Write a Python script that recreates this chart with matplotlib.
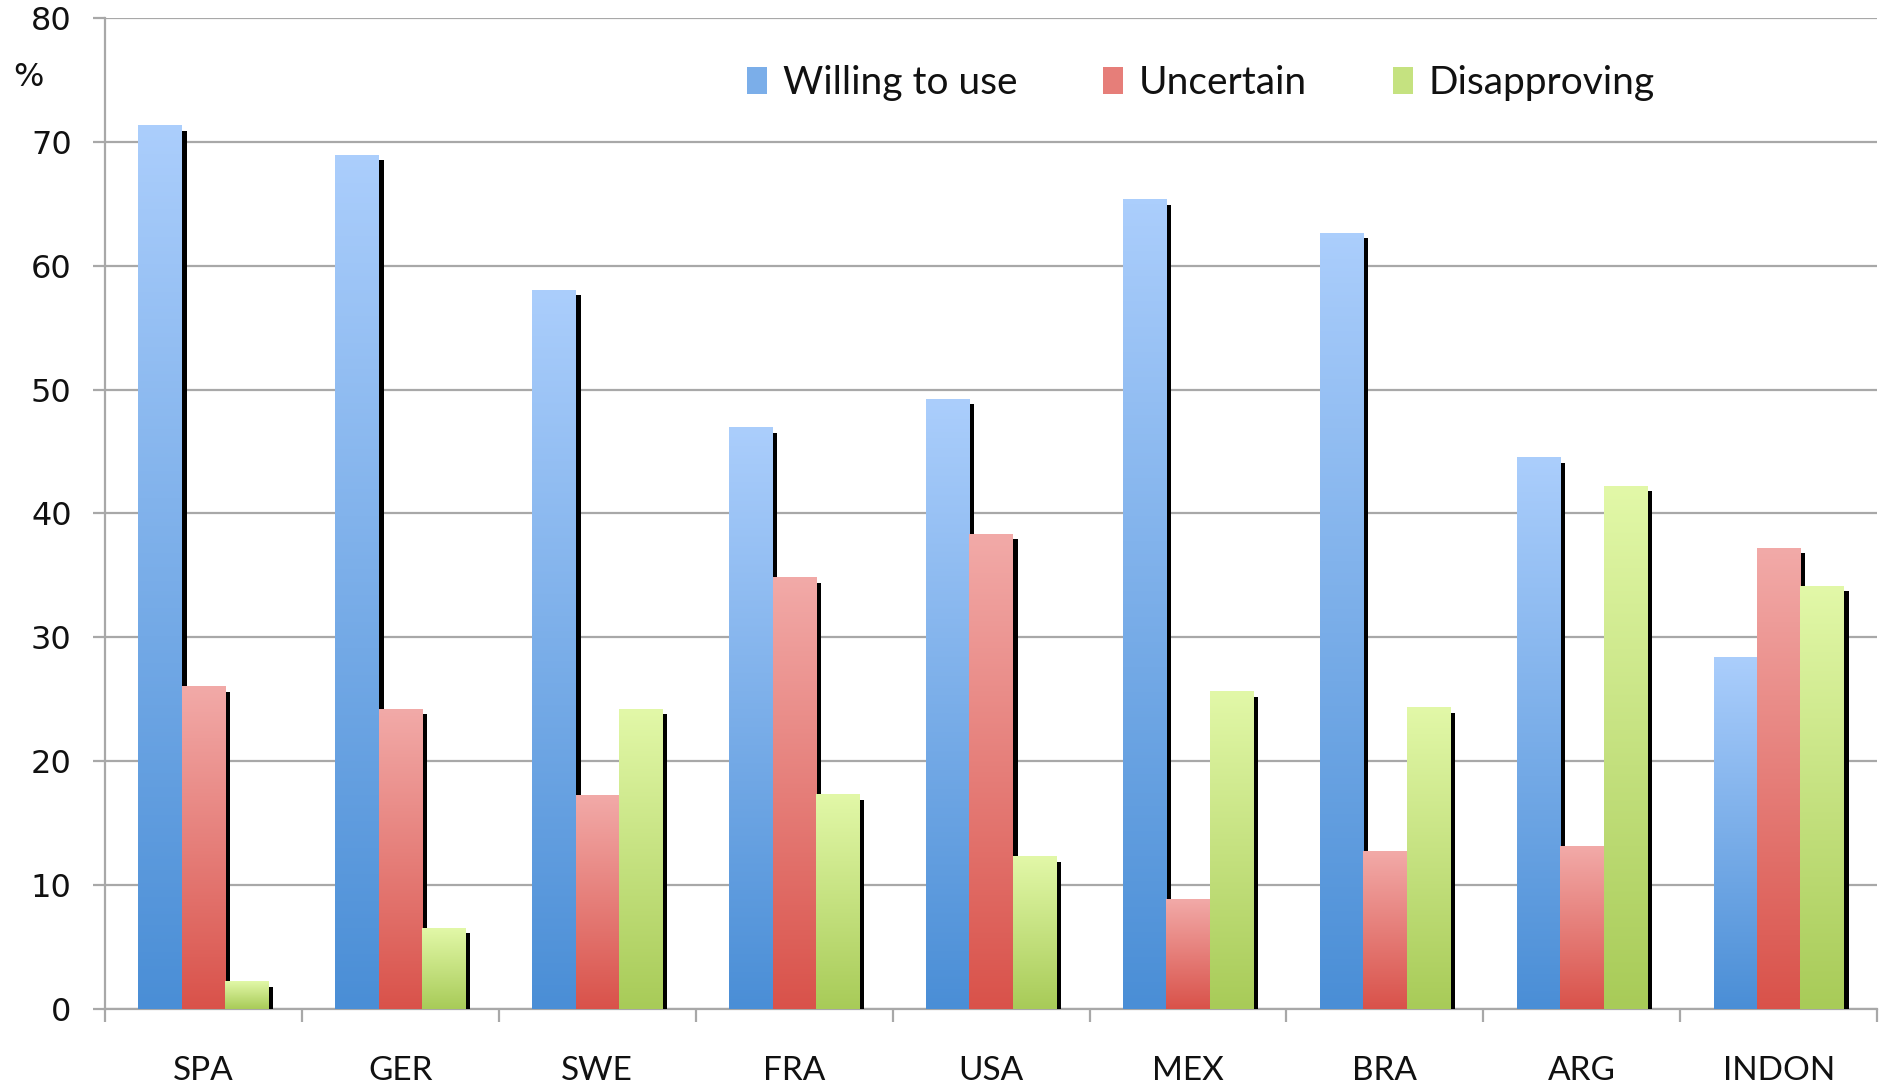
import matplotlib.pyplot as plt
import numpy as np
from matplotlib.colors import LinearSegmentedColormap
from matplotlib.patches import Rectangle, Patch

# Survey shares per country (%)
countries = ["SPA", "GER", "SWE", "FRA", "USA", "MEX", "BRA", "ARG", "INDON"]
willing = [71.3, 68.9, 58.0, 46.9, 49.2, 65.3, 62.6, 44.5, 28.4]
uncertain = [26.0, 24.2, 17.2, 34.8, 38.3, 8.8, 12.7, 13.1, 37.2]
disapproving = [2.2, 6.5, 24.2, 17.3, 12.3, 25.6, 24.3, 42.2, 34.1]
series_names = ["Willing to use", "Uncertain", "Disapproving"]

# (bottom colour, top colour) of the vertical gradients
grads = [("#4a8ed6", "#abcefc"), ("#d9524a", "#f2aaa8"), ("#a8cb58", "#e2f8a8")]

fig = plt.figure(figsize=(18.81, 10.88), dpi=100)
ax = fig.add_axes([0.0558, 0.0726, 0.9422, 0.911])

width = 0.22
dx, dy = 0.025, 0.4  # drop shadow offset (data units)
x = np.arange(len(countries))
grad = np.linspace(0, 1, 256).reshape(-1, 1)

for i, vals in enumerate([willing, uncertain, disapproving]):
    cmap = LinearSegmentedColormap.from_list(f"g{i}", grads[i])
    for xc, v in zip(x, vals):
        x0 = xc + (i - 1) * width - width / 2
        ax.add_patch(Rectangle((x0 + dx, 0), width, v - dy, color="black",
                               lw=0, zorder=2 + 2 * i))
        ax.imshow(grad, extent=[x0, x0 + width, 0, v], origin="lower",
                  aspect="auto", cmap=cmap, interpolation="bicubic",
                  zorder=3 + 2 * i)

ax.set_xlim(-0.5, len(countries) - 0.5)
ax.set_ylim(0, 80)

ax.set_yticks(np.arange(0, 81, 10))
ax.yaxis.grid(True, color="#a8a8a8", lw=1.6)
ax.set_axisbelow(True)
for s in ["top", "right"]:
    ax.spines[s].set_visible(False)
for s in ["left", "bottom"]:
    ax.spines[s].set_color("#a8a8a8")
    ax.spines[s].set_linewidth(1.6)

ax.tick_params(axis="y", length=9, width=1.6, color="#a8a8a8", pad=15,
               labelsize=23, labelcolor="#111111")
ax.set_xticks(x)
ax.set_xticklabels(countries, fontname="Lato", fontsize=24, color="#111111")
ax.set_xticks(np.arange(-0.5, len(countries), 1), minor=True)
ax.tick_params(axis="x", which="major", length=0, pad=34)
ax.tick_params(axis="x", which="minor", length=9, width=1.6, color="#a8a8a8")

fig.text(28 / 1881, 1 - 78 / 1088, "%", fontsize=23, color="#111111",
         ha="center", va="center")

handles = [Patch(facecolor=LinearSegmentedColormap.from_list("h", g)(0.5), lw=0)
           for g in grads]
ax.legend(handles, series_names, loc="center left", bbox_to_anchor=(0.362, 0.934),
          ncol=3, frameon=False, prop={"family": "Lato", "size": 28},
          handlelength=0.53, handleheight=0.68, handletextpad=0.4,
          columnspacing=2.2, borderpad=0, borderaxespad=0, labelcolor="#111111")

fig.savefig("out.png", dpi=100)
